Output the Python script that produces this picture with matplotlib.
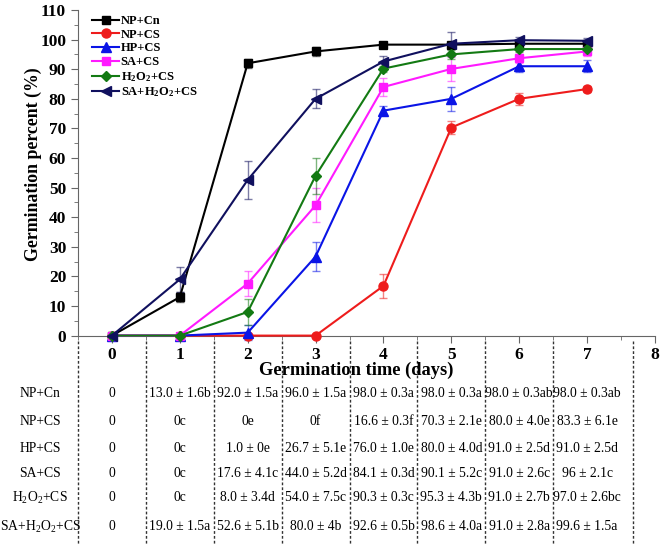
import numpy as np
import matplotlib.pyplot as plt
from matplotlib.ticker import MultipleLocator

plt.rcParams['font.family'] = ['Liberation Serif', 'DejaVu Serif']
plt.rcParams['mathtext.fontset'] = 'custom'
plt.rcParams['mathtext.rm'] = 'Liberation Serif'
plt.rcParams['mathtext.bf'] = 'Liberation Serif:bold'

days = [0, 1, 2, 3, 4, 5, 6, 7]
labels = ['NP+Cn', 'NP+CS', 'HP+CS', 'SA+CS', 'H$_2$O$_2$+CS', 'SA+H$_2$O$_2$+CS']
legend_labels = ['NP+Cn', 'NP+CS', 'HP+CS', 'SA+CS', r'H$\mathbf{_2}$O$\mathbf{_2}$+CS',
                 r'SA+H$\mathbf{_2}$O$\mathbf{_2}$+CS']

# mean germination (%)
np_cn = [0, 13.0, 92.0, 96.0, 98.3, 98.3, 98.6, 98.6]
np_cs = [0, 0, 0, 0, 16.8, 70.3, 80.0, 83.3]
hp_cs = [0, 0, 1.0, 26.7, 76.0, 80.0, 91.0, 91.0]
sa_cs = [0, 0, 17.6, 44.0, 84.0, 90.1, 93.7, 96.0]
h2o2_cs = [0, 0, 8.0, 54.0, 90.2, 95.0, 96.8, 96.8]
sa_h2o2_cs = [0, 19.0, 52.6, 80.0, 92.6, 98.6, 99.8, 99.6]

# error bars
np_cn_err = [0, 1.6, 1.5, 1.5, 0.3, 0.3, 0.3, 0.3]
np_cs_err = [0, 0, 0, 0, 4.0, 2.1, 2.0, 1.0]
hp_cs_err = [0, 0, 2.5, 5.0, 1.5, 4.0, 2.0, 2.0]
sa_cs_err = [0, 0, 4.1, 5.7, 3.0, 4.0, 1.5, 1.5]
h2o2_cs_err = [0, 0, 4.3, 6.0, 1.0, 1.5, 1.0, 1.0]
sa_h2o2_cs_err = [0, 4.2, 6.5, 3.2, 2.0, 4.0, 1.0, 1.0]

# table below the axis
table_rows = [
    ['0', '13.0 ± 1.6b', '92.0 ± 1.5a', '96.0 ± 1.5a', '98.0 ± 0.3a', '98.0 ± 0.3a', '98.0 ± 0.3ab', '98.0 ± 0.3ab'],
    ['0', '0c', '0e', '0f', '16.6 ± 0.3f', '70.3 ± 2.1e', '80.0 ± 4.0e', '83.3 ± 6.1e'],
    ['0', '0c', '1.0 ± 0e', '26.7 ± 5.1e', '76.0 ± 1.0e', '80.0 ± 4.0d', '91.0 ± 2.5d', '91.0 ± 2.5d'],
    ['0', '0c', '17.6 ± 4.1c', '44.0 ± 5.2d', '84.1 ± 0.3d', '90.1 ± 5.2c', '91.0 ± 2.6c', '96 ± 2.1c'],
    ['0', '0c', '8.0 ± 3.4d', '54.0 ± 7.5c', '90.3 ± 0.3c', '95.3 ± 4.3b', '91.0 ± 2.7b', '97.0 ± 2.6bc'],
    ['0', '19.0 ± 1.5a', '52.6 ± 5.1b', '80.0 ± 4b', '92.6 ± 0.5b', '98.6 ± 4.0a', '91.0 ± 2.8a', '99.6 ± 1.5a'],
]
row_label_x = -1.06

series = [np_cn, np_cs, hp_cs, sa_cs, h2o2_cs, sa_h2o2_cs]
errors = [np_cn_err, np_cs_err, hp_cs_err, sa_cs_err, h2o2_cs_err, sa_h2o2_cs_err]
colors = ['#000000', '#ee1c1c', '#0a14e6', '#ff1aff', '#137a13', '#10105e']
markers = ['s', 'o', '^', 's', 'D', '<']
msizes = [5.5, 6.5, 7, 5.5, 5.5, 7]

fig = plt.figure(figsize=(6.66, 5.48), dpi=100)
ax = fig.add_axes([78 / 666, 212.4 / 548, 577 / 666, 325.6 / 548])

handles = []
for y, e, c, m, ms, lab in zip(series, errors, colors, markers, msizes, legend_labels):
    ax.errorbar(days, y, yerr=e, fmt='none', ecolor=c, elinewidth=1,
                capsize=3, capthick=1, alpha=0.55, clip_on=False)
    h, = ax.plot(days, y, color=c, marker=m, markersize=ms, lw=1.5,
                 label=lab, clip_on=False, zorder=3)
    handles.append(h)

ax.set_xlim(-0.5, 8)
ax.set_ylim(0, 110)
ax.spines['top'].set_visible(False)
ax.spines['right'].set_visible(False)
ax.spines['left'].set_color('#666666')
ax.spines['bottom'].set_color('#666666')
ax.xaxis.set_major_locator(MultipleLocator(1))
ax.xaxis.set_minor_locator(MultipleLocator(0.5))
ax.yaxis.set_major_locator(MultipleLocator(10))
ax.yaxis.set_minor_locator(MultipleLocator(5))
ax.tick_params(which='major', length=5, color='#666666', labelsize=12.5)
ax.tick_params(which='minor', length=3, color='#666666')
ax.tick_params(axis='x', pad=3)
for t in ax.get_xticklabels() + ax.get_yticklabels():
    t.set_fontweight('bold')

fig.text(33 / 666, 1 - 164 / 548, 'Germination percent (%)', rotation=90,
         ha='center', va='center', fontsize=12.8, fontweight='bold')
fig.text(356 / 666, 1 - 370 / 548, 'Germination time (days)',
         ha='center', va='center', fontsize=13.3, fontweight='bold')

leg = ax.legend(handles=handles, loc='upper left', bbox_to_anchor=(0.012, 1.008),
                frameon=False, handlelength=2.1, labelspacing=0.14,
                borderaxespad=0.2, handletextpad=0.15,
                prop={'weight': 'bold', 'size': 9})

# table area
tr = ax.get_xaxis_transform()
ax_h = 325.6
def to_axes(py):
    return (335.6 - py) / ax_h

sep_x = [-0.5, 0.5, 1.5, 2.5, 3.5, 4.5, 5.5, 6.5, 7.67]
for sx in sep_x:
    ax.plot([sx, sx], [to_axes(341), to_axes(545)], transform=tr, clip_on=False,
            color='#333333', lw=1, ls=(0, (2, 1.5)))

row_py = [392, 420, 447, 472, 496, 525]
for lab, row, py in zip(labels, table_rows, row_py):
    yy = to_axes(py)
    ax.text(row_label_x, yy, lab, transform=tr, ha='center', va='center_baseline',
            fontsize=9.8)
    for d, s in zip(days, row):
        ax.text(d, yy, s, transform=tr, ha='center', va='center_baseline', fontsize=9.8)

fig.savefig('out.png', dpi=100)
